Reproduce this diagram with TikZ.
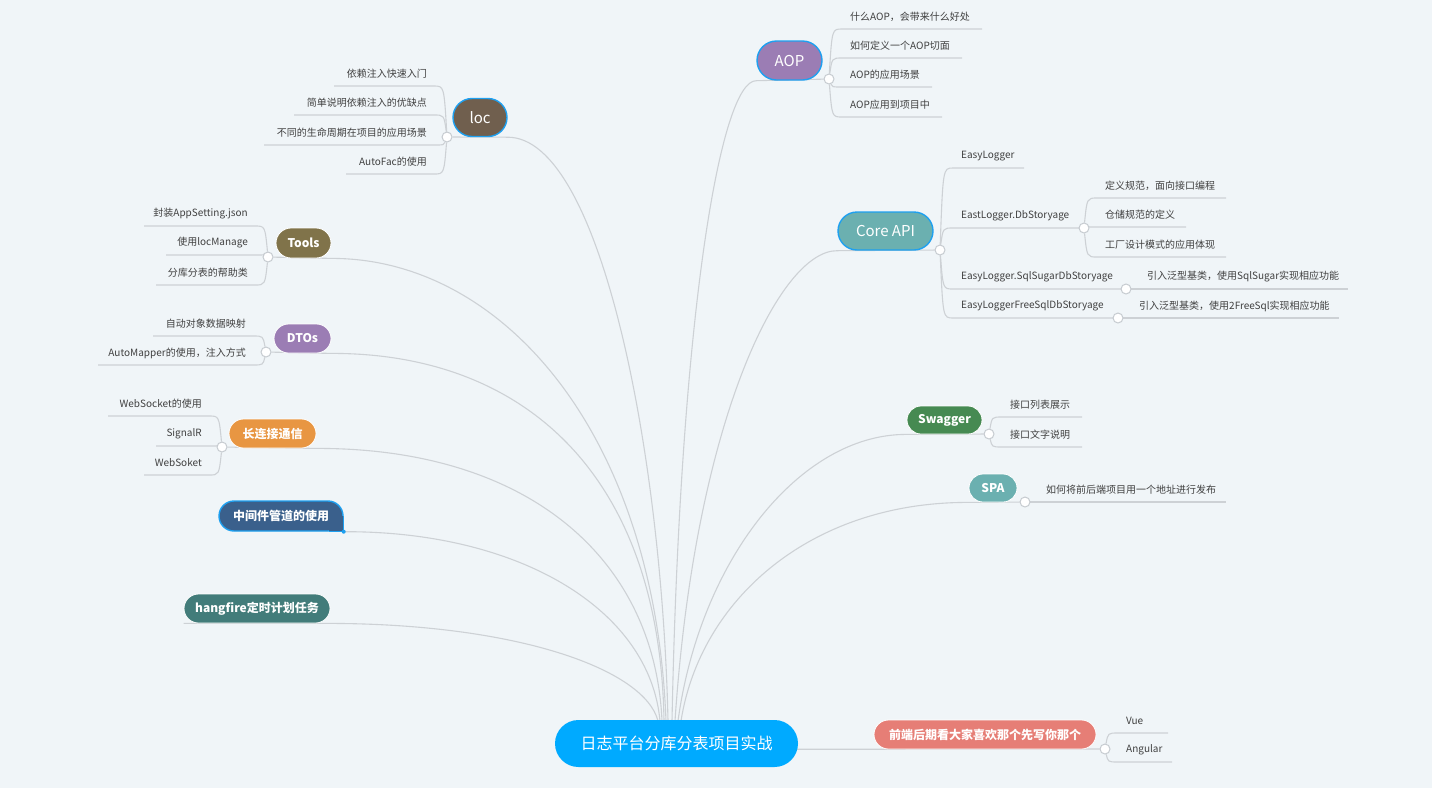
\documentclass[tikz,border=0pt]{standalone}
\usepackage{fontspec}
\setmainfont{Noto Sans CJK SC}
\pgfdeclarelayer{bgl}
\pgfdeclarelayer{lines}
\pgfsetlayers{bgl,lines,main}
\definecolor{bgc}{RGB}{240,245,248}
\definecolor{lncol}{RGB}{205,209,213}
\definecolor{knobcol}{RGB}{198,203,208}
\definecolor{txtcol}{RGB}{64,64,64}
\definecolor{selcol}{RGB}{30,160,240}
\definecolor{rootc}{RGB}{0,170,255}
\definecolor{locc}{RGB}{112,95,78}
\definecolor{toolc}{RGB}{128,115,74}
\definecolor{dtoc}{RGB}{155,125,180}
\definecolor{lcc}{RGB}{232,150,66}
\definecolor{mwc}{RGB}{58,96,140}
\definecolor{hfc}{RGB}{66,124,122}
\definecolor{aopc}{RGB}{155,125,180}
\definecolor{corec}{RGB}{107,176,176}
\definecolor{swc}{RGB}{70,138,82}
\definecolor{spac}{RGB}{107,176,176}
\definecolor{fec}{RGB}{230,126,118}
\tikzset{
  ln/.style={draw=lncol, line width=1.1pt},
  tp/.style={rectangle, inner sep=0pt, text=white, font=\bfseries\fontsize{12}{14}\selectfont},
  tpl/.style={rectangle, inner sep=0pt, text=white, font=\fontsize{15}{18}\selectfont},
  lbl/.style={inner sep=0pt, text=txtcol, font=\fontsize{10}{12}\selectfont},
  knob/.style={circle, draw=knobcol, fill=white, line width=1pt, minimum size=10pt, inner sep=0pt},
  sel/.style={draw=selcol, line width=1.4pt},
  wb/.style={draw=white, line width=0.8pt}
}
\newcommand\lkid[6]{%
  \coordinate (#1a) at (#3-13,#4);
  \coordinate (#1b) at (#5,#4);
  \begin{pgfonlayer}{lines}
  \draw[ln] (#2) .. controls (#3-3,#4) .. (#1a) -- (#1b);
  \end{pgfonlayer}
  \node[lbl,anchor=east] (#1) at (#3-20,#4-12) {#6};}
\newcommand\rkid[6]{%
  \coordinate (#1a) at (#3+13,#4);
  \coordinate (#1b) at (#5,#4);
  \begin{pgfonlayer}{lines}
  \draw[ln] (#2) .. controls (#3+3,#4) .. (#1a) -- (#1b);
  \end{pgfonlayer}
  \node[lbl,anchor=west] (#1) at (#3+21,#4-12) {#6};}
\begin{document}
\begin{tikzpicture}[x=1pt,y=-1pt]
\useasboundingbox (0,0) rectangle (1432,788);
\begin{pgfonlayer}{bgl}
\fill[bgc] (0,0) rectangle (1432,788);
\end{pgfonlayer}

% root
\node[fill=rootc, text=white, font=\fontsize{16}{19}\selectfont, minimum width=243pt, minimum height=47pt, rounded corners=23.5pt, inner sep=0pt] (root) at (676.5,743.5) {日志平台分库分表项目实战};

% main topics
\node[tpl, sel, fill=locc, minimum width=54pt, minimum height=38pt, rounded corners=19pt] (loc) at (480,117.5) {loc};
\node[tp, wb, fill=toolc, minimum width=55pt, minimum height=30pt, rounded corners=15pt] (tools) at (303.5,243) {Tools};
\node[tp, wb, fill=dtoc, minimum width=57pt, minimum height=29pt, rounded corners=14.5pt] (dtos) at (302.5,338.5) {DTOs};
\node[tp, wb, fill=lcc, minimum width=87pt, minimum height=29pt, rounded corners=14.5pt] (lc) at (272.5,433.5) {长连接通信};
\node[tp, sel, fill=mwc, minimum width=124pt, minimum height=30pt, rounded corners=15pt] (mw) at (281,516) {中间件管道的使用};
\fill[mwc] ([xshift=-15pt]mw.south east) rectangle (mw.east);
\draw[sel] (mw.east) -- (mw.south east) -- ([xshift=-15pt]mw.south east);
\fill[selcol] (mw.south east) circle[radius=2pt];
\node[tp, wb, fill=hfc, minimum width=146pt, minimum height=29pt, rounded corners=14.5pt] (hf) at (257,608.5) {hangfire定时计划任务};

\node[tpl, sel, fill=aopc, minimum width=65pt, minimum height=39pt, rounded corners=19.5pt] (aop) at (789.5,60.5) {AOP};
\node[tpl, sel, fill=corec, minimum width=95pt, minimum height=38pt, rounded corners=19pt] (core) at (885.5,231) {Core API};
\node[tp, wb, fill=swc, minimum width=75pt, minimum height=28pt, rounded corners=14pt] (sw) at (944.5,420) {Swagger};
\node[tp, wb, fill=spac, minimum width=48pt, minimum height=28pt, rounded corners=14pt] (spa) at (993,488) {SPA};
\node[tp, wb, fill=fec, minimum width=222pt, minimum height=29pt, rounded corners=14.5pt] (fe) at (985,734.5) {前端后期看大家喜欢那个先写你那个};

% knobs
\node[knob] (cloc) at (447,137) {};
\node[knob] (ctools) at (268,257) {};
\node[knob] (cdtos) at (266,352) {};
\node[knob] (clc) at (222,447) {};
\node[knob] (caop) at (829,79) {};
\node[knob] (ccore) at (940,250) {};
\node[knob] (cdb) at (1084,228) {};
\node[knob] (csq) at (1126,289) {};
\node[knob] (cfs) at (1118,318) {};
\node[knob] (csw) at (989,434) {};
\node[knob] (cspa) at (1025,502) {};
\node[knob] (cfe) at (1105,749) {};

% root targets
\coordinate (thf) at (658,721);
\coordinate (tmw) at (660,721);
\coordinate (tlc) at (662,721);
\coordinate (tdt) at (664,721);
\coordinate (ttl) at (666,721);
\coordinate (tloc) at (668,721);
\coordinate (taop) at (672,721);
\coordinate (tcore) at (675,721);
\coordinate (tsw) at (678,721);
\coordinate (tspa) at (681,721);

\begin{pgfonlayer}{lines}
\draw[ln] (cloc) -- (loc.south east) .. controls (600,137) and (662,450) .. (tloc);
\draw[ln] (ctools) -- (tools.south east) .. controls (500,258) and (655,430) .. (ttl);
\draw[ln] (cdtos) -- (dtos.south east) .. controls (520,353) and (660,470) .. (tdt);
\draw[ln] (clc) -- (lc.south east) .. controls (530,448) and (655,560) .. (tlc);
\draw[ln] (mw.south east) .. controls (520,531) and (650,610) .. (tmw);
\draw[ln] (hf.south west) -- (hf.south east) .. controls (520,624) and (645,670) .. (thf);
\draw[ln] (caop) -- (aop.south west) .. controls (720,80) and (680,320) .. (taop);
\draw[ln] (ccore) -- (core.south west) .. controls (780,250) and (695,420) .. (tcore);
\draw[ln] (csw) -- (sw.south west) .. controls (800,434) and (700,560) .. (tsw);
\draw[ln] (cspa) -- (spa.south west) .. controls (810,502) and (700,600) .. (tspa);
\draw[ln] (root.center |- fe.south) -- (cfe);
\end{pgfonlayer}

% loc children
\lkid{k1}{cloc}{447}{86}{334}{依赖注入快速入门}
\lkid{k2}{cloc}{447}{115}{294}{简单说明依赖注入的优缺点}
\lkid{k3}{cloc}{447}{145}{264}{不同的生命周期在项目的应用场景}
\lkid{k4}{cloc}{447}{174}{346}{AutoFac的使用}
% Tools children
\lkid{k5}{ctools}{268}{226}{144}{封装AppSetting.json}
\lkid{k6}{ctools}{268}{255}{166}{使用locManage}
\lkid{k7}{ctools}{268}{285}{156}{分库分表的帮助类}
% DTOs children
\lkid{k8}{cdtos}{266}{336}{153}{自动对象数据映射}
\lkid{k9}{cdtos}{266}{365}{98}{AutoMapper的使用，注入方式}
% long connection children
\lkid{k10}{clc}{222}{416}{108}{WebSocket的使用}
\lkid{k11}{clc}{222}{446}{156}{SignalR}
\lkid{k12}{clc}{222}{475}{144}{WebSoket}
% AOP children
\rkid{k13}{caop}{829}{29}{982}{什么AOP，会带来什么好处}
\rkid{k14}{caop}{829}{58}{962}{如何定义一个AOP切面}
\rkid{k15}{caop}{829}{87}{932}{AOP的应用场景}
\rkid{k16}{caop}{829}{117}{942}{AOP应用到项目中}
% Core API children
\rkid{k17}{ccore}{940}{168}{1024}{EasyLogger}
\rkid{k18}{ccore}{940}{228}{1084}{EastLogger.DbStoryage}
\rkid{k19}{ccore}{940}{289}{1126}{EasyLogger.SqlSugarDbStoryage}
\rkid{k20}{ccore}{940}{318}{1118}{EasyLoggerFreeSqlDbStoryage}
\rkid{k21}{cdb}{1084}{198}{1226}{定义规范，面向接口编程}
\rkid{k22}{cdb}{1084}{227}{1186}{仓储规范的定义}
\rkid{k23}{cdb}{1084}{257}{1226}{工厂设计模式的应用体现}
\rkid{k24}{csq}{1126}{289}{1348}{引入泛型基类，使用SqlSugar实现相应功能}
\rkid{k25}{cfs}{1118}{318}{1339}{引入泛型基类，使用2FreeSql实现相应功能}
% Swagger children
\rkid{k26}{csw}{989}{417}{1082}{接口列表展示}
\rkid{k27}{csw}{989}{447}{1082}{接口文字说明}
% SPA child
\rkid{k28}{cspa}{1025}{502}{1226}{如何将前后端项目用一个地址进行发布}
% front-end children
\rkid{k29}{cfe}{1105}{733}{1168}{Vue}
\rkid{k30}{cfe}{1105}{762}{1172}{Angular}
\end{tikzpicture}
\end{document}
